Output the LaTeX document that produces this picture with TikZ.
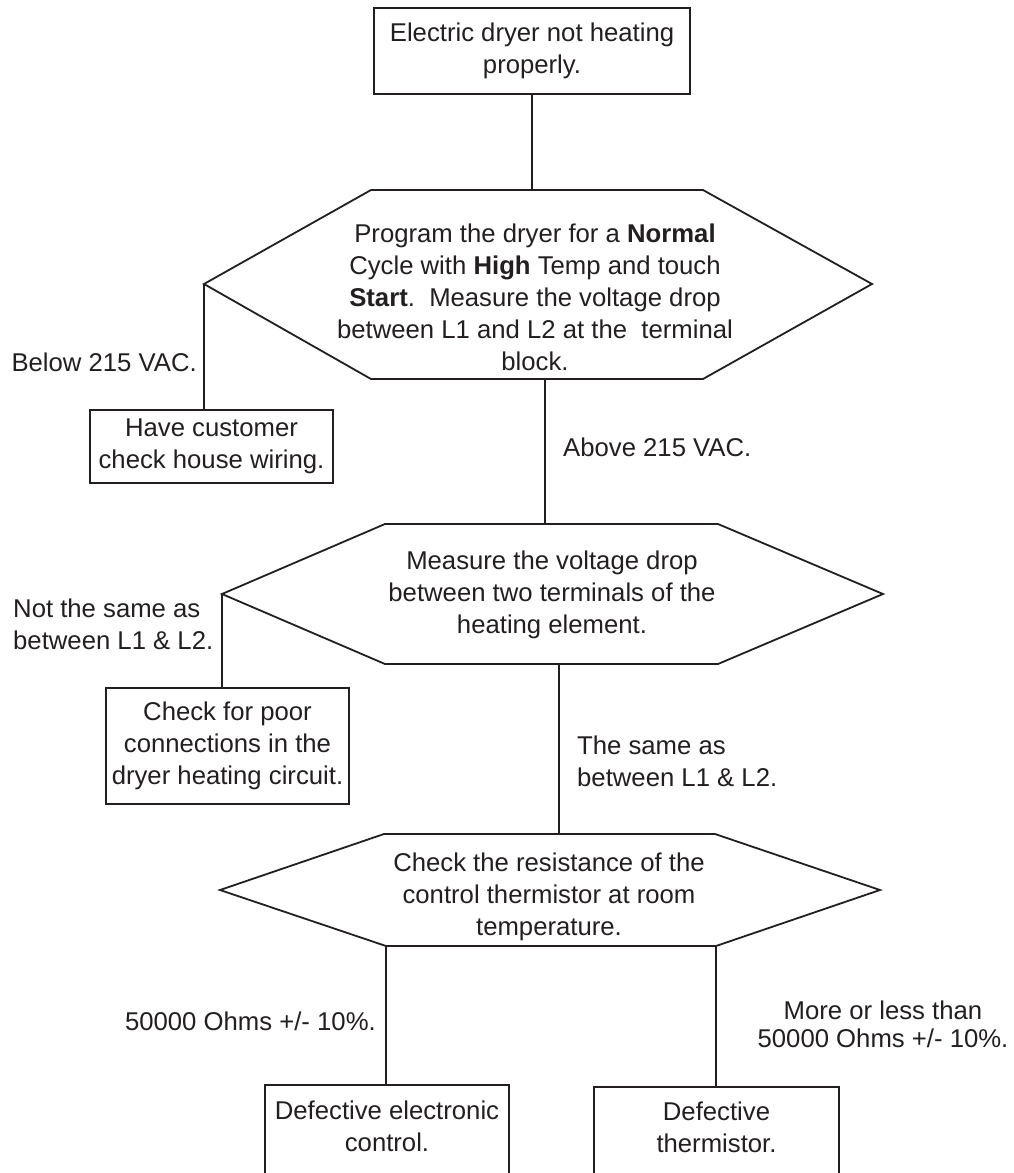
\documentclass[tikz,border=0pt]{standalone}
\usepackage{fontspec}
\setmainfont{Liberation Sans}
\definecolor{ink}{RGB}{35,31,32}
\tikzset{
  basefont/.style={font=\fontsize{25.7}{32}\selectfont},
  flowbox/.style={draw=ink, line width=1.8pt, rectangle, inner sep=0pt, align=center, basefont, text=ink},
  txt/.style={inner sep=0pt, align=center, basefont, text=ink},
  hexline/.style={draw=ink, line width=1.8pt, line join=miter},
  link/.style={draw=ink, line width=1.8pt}
}
\begin{document}
\begin{tikzpicture}[x=1pt,y=-1pt]
\useasboundingbox (0,0) rectangle (1013,1173);
\clip (0,0) rectangle (1013,1173);
\fill[white] (0,0) rectangle (1013,1173);

% boxes
\node[flowbox, minimum width=316pt, minimum height=86pt] (start) at (532,51) {Electric dryer not heating\\properly.};
\node[flowbox, minimum width=243pt, minimum height=73pt] (cust) at (211.5,446.5) {Have customer\\check house wiring.};
\node[flowbox, minimum width=243pt, minimum height=116pt] (poor) at (227.5,746) {Check for poor\\connections in the\\dryer heating circuit.};

% open boxes at the bottom edge (they run off the picture)
\node[txt] (ctrl) at (387,1126) {Defective electronic\\control.};
\node[txt] (therm) at (716.5,1127) {Defective\\thermistor.};
\coordinate (ctrlTop) at (387,1085);
\coordinate (thermTop) at (716.5,1087);
\draw[link, line join=miter] (265,1190) |- (509,1085) -- (509,1190);
\draw[link, line join=miter] (594,1190) |- (839,1087) -- (839,1190);

% hexagon 1
\coordinate (h1L) at (204,284);
\coordinate (h1TL) at (371,190);
\coordinate (h1TR) at (703,190);
\coordinate (h1R) at (872,284);
\coordinate (h1BR) at (703,379);
\coordinate (h1BL) at (371,379);
\coordinate (h1o) at (545,379);
\draw[hexline] (h1L) -- (h1TL) -- (h1TR) -- (h1R) -- (h1BR) -- (h1BL) -- cycle;
\node[txt] (q1) at (535,297) {Program the dryer for a \textbf{Normal}\\Cycle with \textbf{High} Temp and touch\\\textbf{Start}.\ \ Measure the voltage drop\\between L1 and L2 at the\ \ terminal\\block.};

% hexagon 2
\coordinate (h2L) at (222,594);
\coordinate (h2TL) at (385,524);
\coordinate (h2TR) at (718,524);
\coordinate (h2R) at (883,594);
\coordinate (h2BR) at (718,664);
\coordinate (h2BL) at (385,664);
\coordinate (h2o) at (559,664);
\draw[hexline] (h2L) -- (h2TL) -- (h2TR) -- (h2R) -- (h2BR) -- (h2BL) -- cycle;
\node[txt] (q2) at (552,595) {Measure the voltage drop\\between two terminals of the\\heating element.};

% hexagon 3
\coordinate (h3L) at (220,890);
\coordinate (h3TL) at (384,834);
\coordinate (h3TR) at (715,834);
\coordinate (h3R) at (880,890);
\coordinate (h3BR) at (716,946);
\coordinate (h3BL) at (386,946);
\draw[hexline] (h3L) -- (h3TL) -- (h3TR) -- (h3R) -- (h3BR) -- (h3BL) -- cycle;
\node[txt] (q3) at (549,897) {Check the resistance of the\\control thermistor at room\\temperature.};

% connectors
\draw[link] (start.south) -- (start.south |- h1TL);
\draw[link] (h1L) -- (h1L |- cust.north);
\draw[link] (h1o) -- (h1o |- h2TL);
\draw[link] (h2L) -- (h2L |- poor.north);
\draw[link] (h2o) -- (h2o |- h3TL);
\draw[link] (h3BL) -- (h3BL |- ctrlTop);
\draw[link] (h3BR) -- (h3BR |- thermTop);

% labels
\node[txt, anchor=east] (lbl1) at (197,362) {Below 215 VAC.};
\node[txt, anchor=west] (lbl2) at (563,447) {Above 215 VAC.};
\node[txt, anchor=west, align=left] (lbl3) at (13,624) {Not the same as\\between L1 \& L2.};
\node[txt, anchor=west, align=left] (lbl4) at (577,761) {The same as\\between L1 \& L2.};
\node[txt, anchor=east] (lbl5) at (376,1021) {50000 Ohms +/- 10\%.};
\node[txt, font=\fontsize{25.7}{28}\selectfont] (lbl6) at (883,1024) {More or less than\\50000 Ohms +/- 10\%.};
\end{tikzpicture}
\end{document}
